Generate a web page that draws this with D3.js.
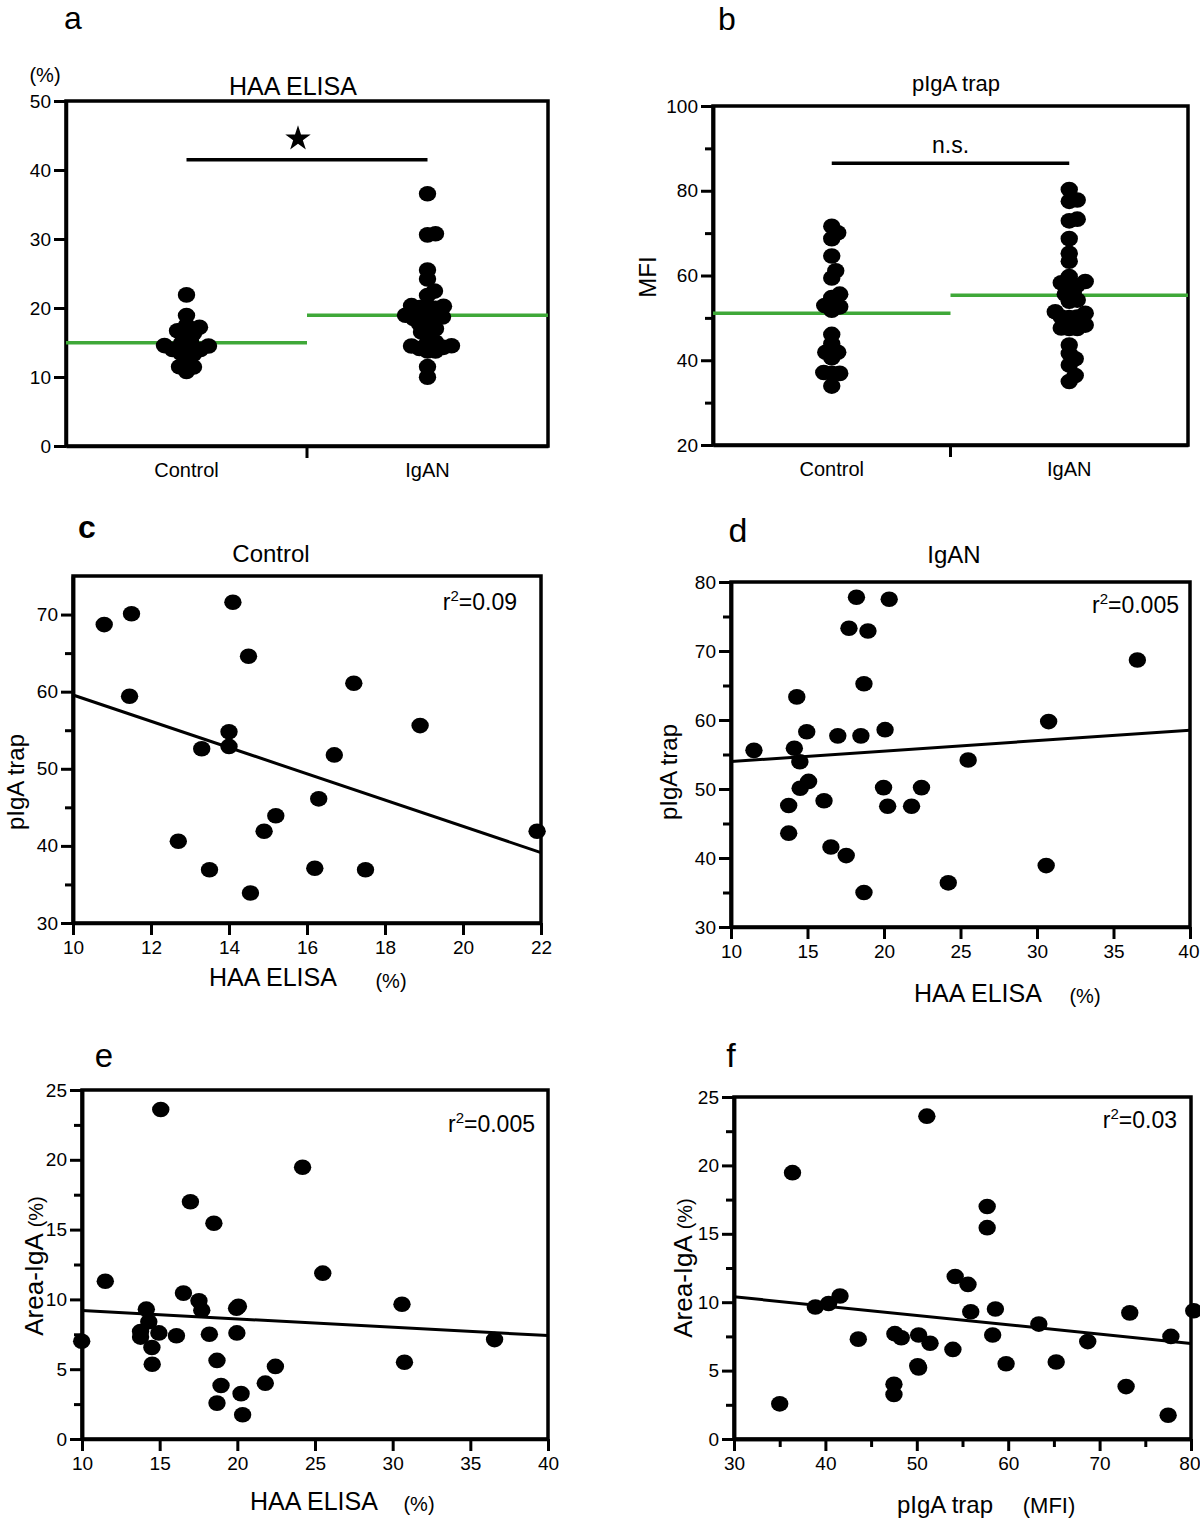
<!DOCTYPE html>
<html><head><meta charset="utf-8">
<script src="https://cdn.jsdelivr.net/npm/d3@7"></script>
<style>
body{margin:0;background:#fff}
svg{display:block}
text{font-family:"Liberation Sans",Arial,sans-serif;fill:#000}
</style>
</head><body>
<svg id="chart" width="1200" height="1518"></svg>
<script>
// ---------------- DATA ----------------
const groups = ["Control", "IgAN"];

// Control subjects (n = 20)
const controlHAA  = [10.8, 11.5, 11.45, 12.7, 13.3, 13.5, 14.0, 14.0, 14.1, 14.5, 14.55, 14.9, 15.2, 16.2, 16.3, 16.7, 17.2, 17.5, 18.9, 21.9];
const controlTrap = [68.7, 70.1, 59.4, 40.6, 52.6, 36.9, 54.8, 52.9, 71.6, 64.6, 33.9, 41.9, 43.9, 37.1, 46.1, 51.8, 61.1, 36.9, 55.6, 41.9];

// IgAN patients (n = 32)
const iganHAA  = [11.5, 14.14, 14.3, 14.5, 14.95, 15.07, 14.52, 13.77, 13.77, 16.08, 16.53, 17.53, 16.98, 17.71, 18.2, 18.95,
                  18.69, 18.49, 18.69, 20.34, 20.07, 19.97, 20.24, 21.8, 22.45, 24.2, 25.5, 30.76, 30.6, 36.56, 9.98, 19.95];
const iganTrap = [55.6, 55.9, 63.35, 53.95, 58.3, 51.1, 50.1, 47.6, 43.6, 48.3, 41.6, 40.35, 57.7, 73.3, 77.8, 72.9,
                  65.25, 57.7, 35.0, 77.5, 58.6, 50.2, 47.5, 47.5, 50.2, 36.4, 54.2, 59.77, 38.9, 68.7, 51.45, 80.3];
const iganArea = [11.3, 9.3, 8.4, 6.55, 7.6, 23.6, 5.35, 7.7, 7.3, 7.4, 10.45, 9.9, 17.0, 9.22, 7.5, 3.83,
                  5.63, 15.45, 2.57, 1.74, 9.5, 7.6, 3.25, 4.0, 5.2, 19.47, 11.88, 5.5, 9.65, 7.12, 7.0, 9.37];

const r2Labels = ["0.09", "0.005", "0.005", "0.03"];   // panels c, d, e, f
const sigLabels = ["★", "n.s."];                        // panels a, b
const sigLevel  = [41.5, 86.5];                         // bar level in data units, panels a, b

// tick values
const ticksA  = [0, 10, 20, 30, 40, 50];
const ticksB  = [20, 40, 60, 80, 100];
const minorB  = [30, 50, 70, 90];
const ticksCx = [10, 12, 14, 16, 18, 20, 22];
const ticksCy = [30, 40, 50, 60, 70];
const minorCy = [35, 45, 55, 65];
const ticksDx = [10, 15, 20, 25, 30, 35, 40];
const ticksDy = [30, 40, 50, 60, 70, 80];
const minorDy = [35, 45, 55, 65, 75];
const ticksEy = [0, 5, 10, 15, 20, 25];
const minorEy = [2.5, 7.5, 12.5, 17.5, 22.5];
const ticksFx = [30, 40, 50, 60, 70, 80];
const minorFx = [35, 45, 55, 65, 75];

// ---------------- DRAWING ----------------
const svg = d3.select("#chart");
svg.append("rect").attr("width", 1200).attr("height", 1518).attr("fill", "#fff");

const AXW = 3.5, TKW = 3, FONT = '"Liberation Sans",Arial,sans-serif';
const RX = 8.7, RY = 7.8;
const GREEN = "#3fa838";

function styleAxis(g) {
  g.attr("font-family", FONT).attr("font-size", 19);
  g.select(".domain").attr("stroke", "#000").attr("stroke-width", AXW);
  g.selectAll(".tick line").attr("stroke", "#000").attr("stroke-width", TKW);
  g.selectAll(".tick text").attr("fill", "#000");
}

function frame(g, L, R, T, B) {
  g.append("rect").attr("x", L).attr("y", T).attr("width", R - L).attr("height", B - T)
    .attr("fill", "none").attr("stroke", "#000").attr("stroke-width", AXW);
}

function yAxes(g, y, L, major, minor) {
  if (minor) g.append("g").attr("transform", `translate(${L},0)`)
    .call(d3.axisLeft(y).tickValues(minor).tickSize(8).tickSizeOuter(0).tickFormat(""))
    .call(styleAxis);
  g.append("g").attr("transform", `translate(${L},0)`)
    .call(d3.axisLeft(y).tickValues(major).tickSize(12).tickPadding(3).tickSizeOuter(0).tickFormat(d3.format("d")))
    .call(styleAxis);
}

function txt(g, s, x, y, size, opt = {}) {
  const t = g.append("text").attr("x", x).attr("y", y).attr("font-size", size)
    .attr("text-anchor", opt.anchor || "middle");
  if (opt.bold) t.attr("font-weight", "bold");
  t.text(s);
  return t;
}

function rotLabel(g, parts, x, y, size) {
  const t = g.append("text").attr("transform", `translate(${x},${y}) rotate(-90)`)
    .attr("text-anchor", "middle").attr("font-size", size);
  parts.forEach(p => t.append("tspan").attr("font-size", p.size || size).text(p.s));
}

function r2(g, val, x, y) {
  const t = g.append("text").attr("x", x).attr("y", y).attr("font-size", 23).attr("text-anchor", "end");
  t.append("tspan").text("r");
  t.append("tspan").attr("font-size", 15).attr("dy", -9).text("2");
  t.append("tspan").attr("dy", 9).text("=" + val);
}

function fit(xs, ys) {
  const mx = d3.mean(xs), my = d3.mean(ys);
  let sxy = 0, sxx = 0;
  xs.forEach((v, i) => { sxy += (v - mx) * (ys[i] - my); sxx += (v - mx) * (v - mx); });
  const b = sxy / sxx;
  return v => my + b * (v - mx);
}

function swarm(values, y, D) {
  const order = values.map((v, i) => i).sort((a, b) => values[a] - values[b]);
  const placed = [], offs = new Array(values.length).fill(0);
  for (const i of order) {
    const py = y(values[i]);
    for (let k = 0; k < 400; k++) {
      const c = k === 0 ? 0 : (k % 2 ? 1 : -1) * Math.ceil(k / 2);
      if (placed.every(p => Math.hypot(p.x - c, p.y - py) >= D)) { offs[i] = c; placed.push({ x: c, y: py }); break; }
    }
  }
  return offs;
}

function dotplot(o) {
  const g = svg.append("g");
  const x = d3.scaleBand().domain(groups).range([o.L, o.R]).padding(0);
  const y = d3.scaleLinear().domain(o.yDomain).range([o.B, o.T]);
  yAxes(g, y, o.L, o.ticks, o.minor);
  // category labels
  g.append("g").attr("transform", `translate(0,${o.B})`)
    .call(d3.axisBottom(x).tickSize(0).tickPadding(17).tickSizeOuter(0))
    .call(styleAxis).call(a => a.attr("font-size", 20));
  // middle tick between categories
  g.append("line").attr("x1", x(groups[1])).attr("x2", x(groups[1]))
    .attr("y1", o.B).attr("y2", o.B + 12).attr("stroke", "#000").attr("stroke-width", TKW);
  frame(g, o.L, o.R, o.T, o.B);
  // mean lines
  o.series.forEach((vals, gi) => {
    const m = d3.mean(vals);
    g.append("line").attr("x1", x(groups[gi])).attr("x2", x(groups[gi]) + x.bandwidth())
      .attr("y1", y(m)).attr("y2", y(m)).attr("stroke", GREEN).attr("stroke-width", 3.5);
  });
  // dots
  o.series.forEach((vals, gi) => {
    const cx = x(groups[gi]) + x.bandwidth() / 2;
    const offs = swarm(vals, y, 8);
    g.append("g").selectAll("ellipse").data(vals).join("ellipse")
      .attr("cx", (d, i) => cx + offs[i]).attr("cy", d => y(d))
      .attr("rx", RX).attr("ry", RY).attr("fill", "#000");
  });
  // significance bar
  const x0 = x(groups[0]) + x.bandwidth() / 2, x1 = x(groups[1]) + x.bandwidth() / 2;
  const yb = y(o.sigLevel);
  g.append("line").attr("x1", x0).attr("x2", x1).attr("y1", yb).attr("y2", yb)
    .attr("stroke", "#000").attr("stroke-width", 3.5);
  if (o.sig === "★") {
    g.append("path").attr("d", d3.symbol(d3.symbolStar).size(200)())
      .attr("transform", `translate(${(x0 + x1) / 2 - 9},${yb - 21})`).attr("fill", "#000");
  } else {
    txt(g, o.sig, (x0 + x1) / 2, yb - 10, 23);
  }
  return g;
}

function scatter(o) {
  const g = svg.append("g");
  const x = d3.scaleLinear().domain(o.xDomain).range([o.L, o.R]);
  const y = d3.scaleLinear().domain(o.yDomain).range([o.B, o.T]);
  if (o.xMinor) g.append("g").attr("transform", `translate(0,${o.B})`)
    .call(d3.axisBottom(x).tickValues(o.xMinor).tickSize(8).tickSizeOuter(0).tickFormat(""))
    .call(styleAxis);
  const xa = g.append("g").attr("transform", `translate(0,${o.B})`)
    .call(d3.axisBottom(x).tickValues(o.xTicks).tickSize(12).tickPadding(6).tickSizeOuter(0).tickFormat(d3.format("d")))
    .call(styleAxis);
  // keep the last tick label inside the page
  xa.selectAll(".tick text").filter(d => x(d) > 1185).attr("text-anchor", "end").attr("dx", 9);
  yAxes(g, y, o.L, o.yTicks, o.yMinor);
  frame(g, o.L, o.R, o.T, o.B);
  // regression line
  const f = fit(o.xs, o.ys);
  const [d0, d1] = o.xDomain;
  g.append("line").attr("x1", x(d0)).attr("x2", x(d1)).attr("y1", y(f(d0))).attr("y2", y(f(d1)))
    .attr("stroke", "#000").attr("stroke-width", 3);
  // dots
  let pts = o.xs.map((v, i) => [v, o.ys[i]]);
  if (o.hideOutside) pts = pts.filter(p => p[0] >= d0 && p[0] <= d1 && p[1] >= o.yDomain[0] && p[1] <= o.yDomain[1]);
  g.append("g").selectAll("ellipse").data(pts).join("ellipse")
    .attr("cx", d => x(d[0])).attr("cy", d => y(d[1])).attr("rx", RX).attr("ry", RY).attr("fill", "#000");
  return g;
}

// ---- panel a ----
const ga = dotplot({ L: 66, R: 548, T: 101, B: 446, yDomain: [0, 50], ticks: ticksA,
  series: [controlHAA, iganHAA], sig: sigLabels[0], sigLevel: sigLevel[0] });
txt(ga, "a", 73, 29, 32);
txt(ga, "HAA ELISA", 293, 95, 25);
txt(ga, "(%)", 45, 82, 20);

// ---- panel b ----
const gb = dotplot({ L: 713, R: 1188, T: 106, B: 445, yDomain: [20, 100], ticks: ticksB, minor: minorB,
  series: [controlTrap, iganTrap], sig: sigLabels[1], sigLevel: sigLevel[1] });
txt(gb, "b", 727, 30, 32);
txt(gb, "pIgA trap", 956, 91, 22);
rotLabel(gb, [{ s: "MFI" }], 656, 277, 24);

// ---- panel c ----
const gc = scatter({ L: 73, R: 541, T: 576, B: 923, xDomain: [10, 22], yDomain: [30, 75],
  xTicks: ticksCx, yTicks: ticksCy, yMinor: minorCy, xs: controlHAA, ys: controlTrap });
txt(gc, "c", 87, 538, 32, { bold: true });
txt(gc, "Control", 271, 562, 24);
r2(gc, r2Labels[0], 517, 610);
rotLabel(gc, [{ s: "pIgA trap" }], 24, 782, 24);
txt(gc, "HAA ELISA", 273, 986, 25);
txt(gc, "(%)", 391, 988, 20);

// ---- panel d ----
const gd = scatter({ L: 731, R: 1190, T: 582, B: 927, xDomain: [10, 40], yDomain: [30, 80],
  xTicks: ticksDx, yTicks: ticksDy, yMinor: minorDy, xs: iganHAA, ys: iganTrap, hideOutside: true });
txt(gd, "d", 738, 542, 34);
txt(gd, "IgAN", 954, 563, 24);
r2(gd, r2Labels[1], 1179, 613);
rotLabel(gd, [{ s: "pIgA trap" }], 677, 772, 24);
txt(gd, "HAA ELISA", 978, 1002, 25);
txt(gd, "(%)", 1085, 1003, 20);

// ---- panel e ----
const ge = scatter({ L: 82, R: 548, T: 1090, B: 1439, xDomain: [10, 40], yDomain: [0, 25],
  xTicks: ticksDx, yTicks: ticksEy, yMinor: minorEy, xs: iganHAA, ys: iganArea });
txt(ge, "e", 104, 1067, 33);
r2(ge, r2Labels[2], 535, 1132);
rotLabel(ge, [{ s: "Area-IgA " }, { s: "(%)", size: 20 }], 43, 1266, 26);
txt(ge, "HAA ELISA", 314, 1510, 25);
txt(ge, "(%)", 419, 1511, 20);

// ---- panel f ----
const gf = scatter({ L: 734, R: 1191, T: 1097, B: 1439, xDomain: [30, 80], yDomain: [0, 25],
  xTicks: ticksFx, xMinor: minorFx, yTicks: ticksEy, yMinor: minorEy, xs: iganTrap, ys: iganArea });
txt(gf, "f", 731, 1067, 34);
r2(gf, r2Labels[3], 1177, 1128);
rotLabel(gf, [{ s: "Area-IgA " }, { s: "(%)", size: 20 }], 692, 1268, 26);
txt(gf, "pIgA trap", 945, 1513, 24);
txt(gf, "(MFI)", 1049, 1513, 22);
</script>
</body></html>
